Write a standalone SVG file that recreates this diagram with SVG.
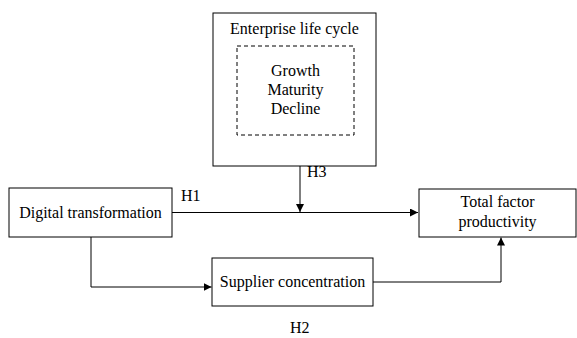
<svg xmlns="http://www.w3.org/2000/svg" width="577" height="338" viewBox="0 0 577 338">
<defs>
<style>
text{font-family:"Liberation Serif","Times New Roman",serif;font-size:16px;fill:#000}
.b{fill:#fff;stroke:#000;stroke-width:1}
.l{fill:none;stroke:#000;stroke-width:1}
</style>
<marker id="a" viewBox="0 0 10 10" refX="10" refY="5" markerWidth="8" markerHeight="8" markerUnits="userSpaceOnUse" orient="auto"><path d="M0,0L10,5L0,10z" fill="#000"/></marker>
</defs>
<rect width="577" height="338" fill="#fff"/>
<g id="connectors">
<path class="l" d="M172,212.5H418" marker-end="url(#a)"/>
<path class="l" d="M300,166V212" marker-end="url(#a)"/>
<path class="l" d="M91,237V287H211.5" marker-end="url(#a)"/>
<path class="l" d="M373,282H501V237.5" marker-end="url(#a)"/>
<text x="181" y="201">H1</text>
<text x="307" y="177">H3</text>
<text x="290" y="333">H2</text>
</g>
<g id="lifecycle">
<rect class="b" x="213" y="13" width="163" height="153"/>
<text x="294.5" y="34" text-anchor="middle">Enterprise life cycle</text>
<rect class="l" x="237" y="46" width="117" height="89" stroke-dasharray="4,3"/>
<text x="295.5" y="76" text-anchor="middle">Growth</text>
<text x="295.5" y="95" text-anchor="middle">Maturity</text>
<text x="295.5" y="114" text-anchor="middle">Decline</text>
</g>
<g id="digital">
<rect class="b" x="9" y="188" width="163" height="49"/>
<text x="90.5" y="218" text-anchor="middle">Digital transformation</text>
</g>
<g id="tfp">
<rect class="b" x="419" y="189" width="157" height="48"/>
<text x="497.5" y="207" text-anchor="middle">Total factor</text>
<text x="497.5" y="227" text-anchor="middle">productivity</text>
</g>
<g id="supplier">
<rect class="b" x="212" y="258" width="161" height="48"/>
<text x="292.5" y="287" text-anchor="middle">Supplier concentration</text>
</g>
</svg>
